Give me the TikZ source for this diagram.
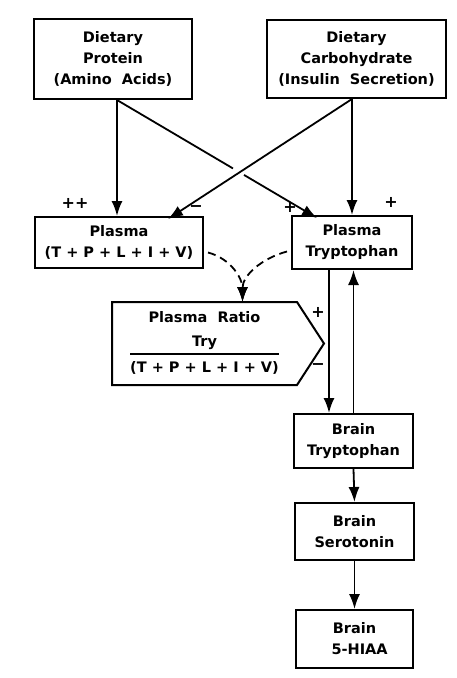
\documentclass[tikz,border=0pt]{standalone}
\usepackage{fontspec}
\setsansfont{DejaVu Sans}
\usetikzlibrary{arrows.meta,positioning,calc}
\begin{document}
\begin{tikzpicture}[x=1pt,y=-1pt,
  box/.style={draw, line width=2pt, align=center, inner sep=0pt,
    font=\sffamily\bfseries\fontsize{14.5}{21}\selectfont},
  arr/.style={line width=1.8pt, -{Latex[length=15pt,width=11pt]}},
  dasharr/.style={arr, dash pattern=on 8pt off 5pt},
  sign/.style={inner sep=0pt, font=\sffamily\bfseries\fontsize{16}{16}\selectfont}]
\useasboundingbox (0,0) rectangle (456,678);
\node[box, minimum width=158, minimum height=80] (dp) at (113,59) {Dietary\\Protein\\(Amino\ \ Acids)};
\node[box, minimum width=179, minimum height=78] (dc) at (356.5,59) {Dietary\\Carbohydrate\\(Insulin\ \ Secretion)};
\node[box, minimum width=168, minimum height=51] (pl) at (119,242.5) {Plasma\\(T + P + L + I + V)};
\node[box, minimum width=120, minimum height=53] (pt) at (352,242.5) {Plasma\\Tryptophan};
\node[box, draw=none, minimum width=183, minimum height=81] (ratio) at (204.5,343.5)
  {\setlength{\arrayrulewidth}{1.6pt}\begin{tabular}{@{}c@{}}Plasma\ \ Ratio\\[3pt] Try\\\hline \rule{0pt}{18pt}(T + P + L + I + V)\end{tabular}};
\draw[line width=2pt] (ratio.north west) -- (ratio.north east) -- ([xshift=27pt]ratio.east)
  -- (ratio.south east) -- (ratio.south west) -- cycle;
\node[box, minimum width=119, minimum height=54] (bt) at (353.5,441) {Brain\\Tryptophan};
\node[box, minimum width=119, minimum height=57] (bs) at (354.5,531.5) {Brain\\Serotonin};
\node[box, minimum width=117, minimum height=58] (bh) at (354.5,639) {Brain\\\ \ 5-HIAA};
% dietary inputs
\draw[arr] ([xshift=4pt]dp.south) -- ([xshift=4pt]dp.south |- pl.north);
\draw[line width=1.8pt] ([xshift=4pt]dp.south) -- ($([xshift=4pt]dp.south)!0.58!([xshift=26pt,yshift=-3pt]pt.north west)$);
\draw[arr] ($([xshift=4pt]dp.south)!0.635!([xshift=26pt,yshift=-3pt]pt.north west)$) -- ([xshift=26pt,yshift=-3pt]pt.north west);
\draw[arr] (dc.south -| pt.north) -- (pt.north);
\draw[arr] (dc.south -| pt.north) -- ([xshift=-36pt,yshift=-3pt]pl.north east);
% plasma ratio
\coordinate (rtop) at ([xshift=38pt]ratio.north);
\draw[dasharr] ([xshift=4pt,yshift=-10pt]pl.east) to[out=-15,in=90] (rtop);
\draw[dasharr] ([xshift=-4pt,yshift=-9pt]pt.west) to[out=195,in=90] (rtop);
% brain
\draw[arr] ([xshift=-23pt]pt.south) -- ([xshift=-23pt]pt.south |- bt.north);
\draw[arr] (bt.north) -- (bt.north |- pt.south);
\draw[arr] (bt.south) -- (bs.north);
\draw[arr] (bs.south) -- (bh.north);
% signs
\node[sign] (s1) at (75,203) {++};
\node[sign] (s2) at (196,209) {−};
\node[sign] (s3) at (290,207) {+};
\node[sign] (s4) at (391,202) {+};
\node[sign] (s5) at (318,312) {+};
\node[sign] (s6) at (318,367) {−};
\end{tikzpicture}
\end{document}
